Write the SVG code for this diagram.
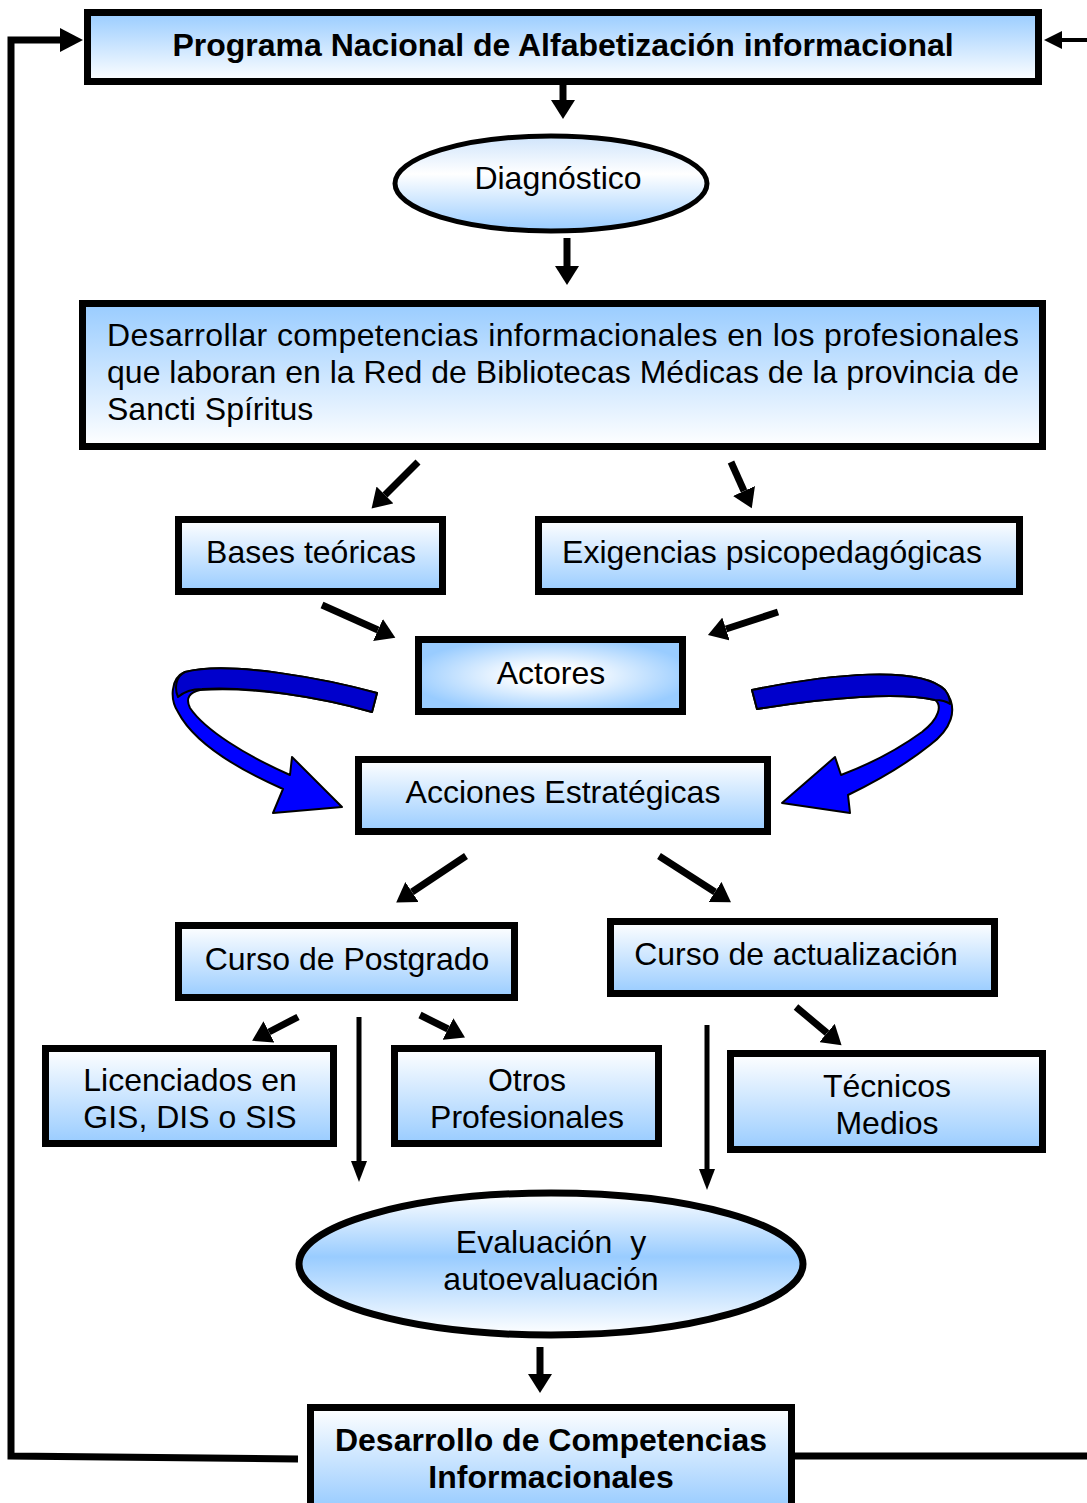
<svg xmlns="http://www.w3.org/2000/svg" width="1087" height="1503" viewBox="0 0 1087 1503">
<defs>
<linearGradient id="gDown" x1="0" y1="0" x2="0" y2="1"><stop offset="0" stop-color="#99CCFF"/><stop offset="1" stop-color="#FFFFFF"/></linearGradient>
<linearGradient id="gUp" x1="0" y1="0" x2="0" y2="1"><stop offset="0" stop-color="#FFFFFF"/><stop offset="1" stop-color="#99CCFF"/></linearGradient>
<linearGradient id="gDiag" x1="0" y1="0" x2="0" y2="1"><stop offset="0" stop-color="#CFE4FB"/><stop offset="0.4" stop-color="#FFFFFF"/><stop offset="1" stop-color="#99CCFF"/></linearGradient>
<linearGradient id="gEval" x1="0" y1="0" x2="0" y2="1"><stop offset="0" stop-color="#FFFFFF"/><stop offset="0.45" stop-color="#99CCFF"/><stop offset="1" stop-color="#FFFFFF"/></linearGradient>
<radialGradient id="gAct" cx="0.5" cy="0.5" r="0.6"><stop offset="0.2" stop-color="#FFFFFF"/><stop offset="0.9" stop-color="#99CCFF"/></radialGradient>
<marker id="ah" markerUnits="userSpaceOnUse" markerWidth="20" markerHeight="24" refX="0" refY="12" orient="auto"><path d="M0,0 L19,12 L0,24 Z" fill="#000"/></marker>
<marker id="ahT" markerUnits="userSpaceOnUse" markerWidth="22" markerHeight="18" refX="0" refY="9" orient="auto"><path d="M0,1 L21,9 L0,17 Z" fill="#000"/></marker>
<marker id="ahL" markerUnits="userSpaceOnUse" markerWidth="24" markerHeight="24" refX="0" refY="12" orient="auto"><path d="M0,0 L23,12 L0,24 Z" fill="#000"/></marker>
<marker id="ahS" markerUnits="userSpaceOnUse" markerWidth="19" markerHeight="20" refX="0" refY="10" orient="auto"><path d="M0,1 L18,10 L0,19 Z" fill="#000"/></marker>
</defs>
<style>
.box{stroke:#000;stroke-width:7}
.t{font-family:"Liberation Sans",Arial,sans-serif;font-size:32px;fill:#000;text-anchor:middle}
.b{font-weight:bold}
.c{stroke:#000;fill:none}
.thick{stroke-width:7;marker-end:url(#ah)}
.thin{stroke-width:5;marker-end:url(#ahT)}
.ribbon{stroke:#000;stroke-width:2;stroke-linejoin:round}
</style>

<g id="connectors">
<polyline class="c" stroke-width="7" points="298,1459 11,1456 11,40 60,40" marker-end="url(#ahL)"/>
<line class="c" stroke-width="4" x1="1087" y1="40" x2="1062" y2="40" marker-end="url(#ahS)"/>
<line class="c" stroke-width="7" x1="793" y1="1456" x2="1087" y2="1456"/>
<line class="c thick" x1="563" y1="85" x2="563" y2="100"/>
<line class="c thick" x1="567" y1="238" x2="567" y2="266"/>
<line class="c thick" x1="418" y1="462" x2="385" y2="495"/>
<line class="c thick" x1="731" y1="462" x2="744" y2="491"/>
<line class="c thick" x1="322" y1="605" x2="378" y2="630"/>
<line class="c thick" x1="778" y1="612" x2="726" y2="629"/>
<line class="c thick" x1="466" y1="856" x2="412" y2="892"/>
<line class="c thick" x1="659" y1="856" x2="715" y2="892"/>
<line class="c thick" x1="298" y1="1017" x2="269" y2="1032"/>
<line class="c thick" x1="420" y1="1015" x2="448" y2="1029"/>
<line class="c thick" x1="796" y1="1007" x2="827" y2="1033"/>
<line class="c thin" x1="359" y1="1017" x2="359" y2="1161"/>
<line class="c thin" x1="707" y1="1025" x2="707" y2="1169"/>
<line class="c thick" x1="540" y1="1347" x2="540" y2="1374"/>
<g id="curveLeft">
<path class="ribbon" fill="#0000FF" d="M377,693 C330,680 230,660 185,672 C170,678 170,700 178,712 C195,745 240,770 283,789 L273,813 L342,807 L292,757 L290,775 C245,755 205,730 190,708 C185,698 190,692 200,690 C250,686 320,697 372,712 Z"/>
<path class="ribbon" fill="#0000CC" d="M377,693 C330,680 230,660 185,672 C176,676 174,688 178,697 C186,690 194,689 202,689 C250,686 320,697 372,712 Z"/>
</g>
<g id="curveRight">
<path class="ribbon" fill="#0000FF" d="M752,690 C830,674 920,665 945,690 C960,710 950,730 930,745 C905,765 875,782 848,795 L850,813 L782,803 L835,757 L841,775 C870,764 900,748 922,732 C940,718 942,705 935,700 C900,692 830,697 757,709 Z"/>
<path class="ribbon" fill="#0000CC" d="M752,690 C830,674 920,665 945,690 C948,694 950,699 950,704 C946,701 941,700 935,700 C900,692 830,697 757,709 Z"/>
</g>
</g>

<g id="n-programa">
<rect class="box" x="87.5" y="12.5" width="951" height="69" fill="url(#gDown)"/>
<text class="t b" x="563" y="56">Programa Nacional de Alfabetización informacional</text>
</g>
<g id="n-diagnostico">
<ellipse cx="551" cy="183.5" rx="156" ry="47.5" fill="url(#gDiag)" stroke="#000" stroke-width="5"/>
<text class="t" x="558" y="189">Diagnóstico</text>
</g>
<g id="n-desarrollar">
<rect class="box" x="82.5" y="303.5" width="960" height="143" fill="url(#gDown)"/>
<text class="t" x="107" y="346" style="text-anchor:start" textLength="912" lengthAdjust="spacing">Desarrollar competencias informacionales en los profesionales</text>
<text class="t" x="107" y="383" style="text-anchor:start" textLength="912" lengthAdjust="spacing">que laboran en la Red de Bibliotecas Médicas de la provincia de</text>
<text class="t" x="107" y="420" style="text-anchor:start">Sancti Spíritus</text>
</g>
<g id="n-bases">
<rect class="box" x="178.5" y="519.5" width="264" height="72" fill="url(#gUp)"/>
<text class="t" x="311" y="563">Bases teóricas</text>
</g>
<g id="n-exigencias">
<rect class="box" x="538.5" y="519.5" width="481" height="72" fill="url(#gUp)"/>
<text class="t" x="772" y="563">Exigencias psicopedagógicas</text>
</g>
<g id="n-actores">
<rect class="box" x="418.5" y="639.5" width="264" height="72" fill="url(#gAct)"/>
<text class="t" x="551" y="684">Actores</text>
</g>
<g id="n-acciones">
<rect class="box" x="358.5" y="759.5" width="409" height="72" fill="url(#gUp)"/>
<text class="t" x="563" y="803">Acciones Estratégicas</text>
</g>
<g id="n-postgrado">
<rect class="box" x="178.5" y="925.5" width="336" height="72" fill="url(#gUp)"/>
<text class="t" x="347" y="970">Curso de Postgrado</text>
</g>
<g id="n-actualizacion">
<rect class="box" x="610.5" y="921.5" width="384" height="72" fill="url(#gUp)"/>
<text class="t" x="796" y="965">Curso de actualización</text>
</g>
<g id="n-licenciados">
<rect class="box" x="45.5" y="1048.5" width="288" height="95" fill="url(#gUp)"/>
<text class="t" x="190" y="1091">Licenciados en</text>
<text class="t" x="190" y="1128">GIS, DIS o SIS</text>
</g>
<g id="n-otros">
<rect class="box" x="394.5" y="1048.5" width="264" height="95" fill="url(#gUp)"/>
<text class="t" x="527" y="1091">Otros</text>
<text class="t" x="527" y="1128">Profesionales</text>
</g>
<g id="n-tecnicos">
<rect class="box" x="730.5" y="1053.5" width="312" height="96" fill="url(#gUp)"/>
<text class="t" x="887" y="1097">Técnicos</text>
<text class="t" x="887" y="1134">Medios</text>
</g>
<g id="n-evaluacion">
<ellipse cx="551" cy="1264" rx="252" ry="71" fill="url(#gEval)" stroke="#000" stroke-width="7"/>
<text class="t" x="551" y="1253" xml:space="preserve">Evaluación  y</text>
<text class="t" x="551" y="1290">autoevaluación</text>
</g>
<g id="n-competencias">
<rect class="box" x="310.5" y="1407.5" width="481" height="100" fill="url(#gUp)"/>
<text class="t b" x="551" y="1451">Desarrollo de Competencias</text>
<text class="t b" x="551" y="1488">Informacionales</text>
</g>
</svg>
